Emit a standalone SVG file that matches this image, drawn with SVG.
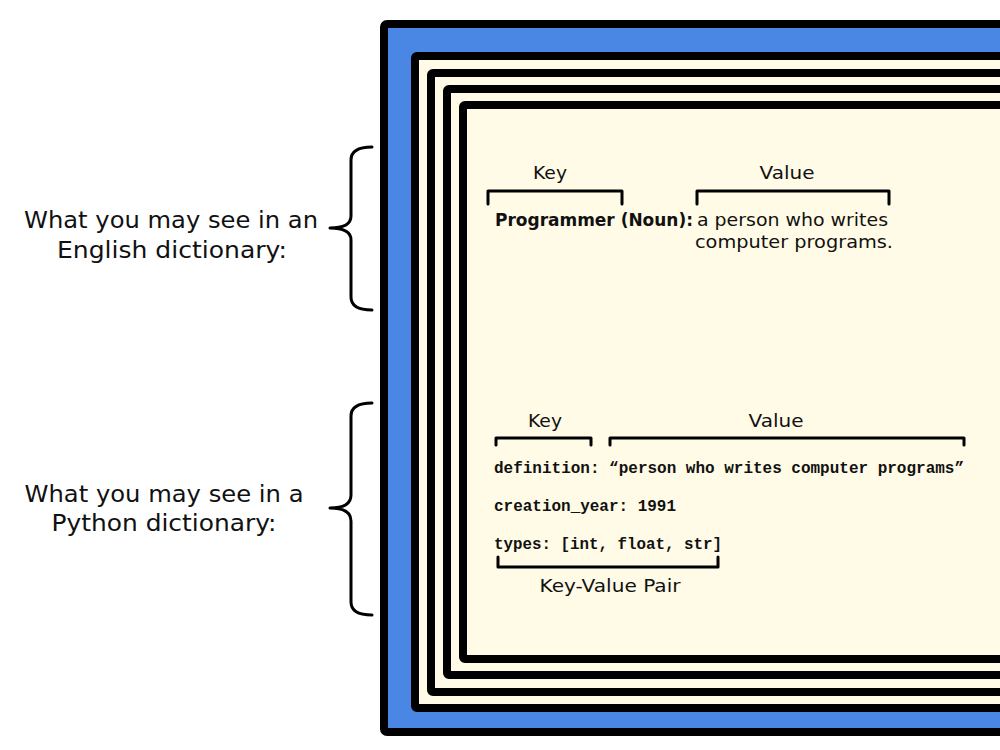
<svg xmlns="http://www.w3.org/2000/svg" width="1000" height="750" viewBox="0 0 1000 750">
<style>
.frame{stroke:#000;stroke-width:8;}
.cream{fill:#fffbe6;}
.lbl{font-family:"DejaVu Sans","Liberation Sans",sans-serif;fill:#111;}
.side{font-size:23px;}
.hd{font-size:18px;}
.bold{font-weight:bold;}
.mono{font-family:"Liberation Mono","DejaVu Sans Mono",monospace;font-weight:bold;font-size:16px;fill:#111;}
.br{fill:none;stroke:#000;stroke-width:3;stroke-linecap:round;stroke-linejoin:round;}
</style>
<rect width="1000" height="750" fill="#fff"/>
<g id="frames">
<rect class="frame" x="384" y="24" width="660" height="708" rx="3" fill="#4a86e3"/>
<rect class="frame cream" x="415" y="56" width="620" height="652" rx="2"/>
<rect class="frame cream" x="431" y="73" width="600" height="619" rx="2"/>
<rect class="frame cream" x="447" y="89" width="590" height="586" rx="2"/>
<rect class="frame cream" x="463" y="105" width="580" height="554" rx="2"/>
</g>
<g id="english-label">
<text class="lbl side" x="171" y="228" text-anchor="middle" textLength="294" lengthAdjust="spacingAndGlyphs">What you may see in an</text>
<text class="lbl side" x="172" y="258" text-anchor="middle" textLength="230" lengthAdjust="spacingAndGlyphs">English dictionary:</text>
</g>
<g id="python-label">
<text class="lbl side" x="164" y="502" text-anchor="middle" textLength="279" lengthAdjust="spacingAndGlyphs">What you may see in a</text>
<text class="lbl side" x="164" y="531" text-anchor="middle" textLength="225" lengthAdjust="spacingAndGlyphs">Python dictionary:</text>
</g>
<g id="connectors">
<path class="br" d="M372,147 Q351,147 351,160 L351,216 Q351,228 330,228 Q351,228 351,240 L351,297 Q351,310 372,310"/>
<path class="br" d="M372,403 Q351,403 351,416 L351,495 Q351,508 330,508 Q351,508 351,521 L351,602 Q351,615 372,615"/>
<path class="br" d="M488,204 L488,191 L622,191 L622,204"/>
<path class="br" d="M697,204 L697,191 L889,191 L889,204"/>
<path class="br" d="M496,445 L496,438 L591,438 L591,445"/>
<path class="br" d="M610,445 L610,438 L964,438 L964,445"/>
<path class="br" d="M498,557 L498,567 L718,567 L718,557"/>
</g>
<g id="english-entry">
<text class="lbl hd" x="550" y="179" text-anchor="middle" textLength="34" lengthAdjust="spacingAndGlyphs">Key</text>
<text class="lbl hd" x="787" y="179" text-anchor="middle" textLength="55" lengthAdjust="spacingAndGlyphs">Value</text>
<text class="lbl hd bold" x="495" y="226" textLength="198" lengthAdjust="spacingAndGlyphs">Programmer (Noun):</text>
<text class="lbl hd" x="697" y="226" textLength="191" lengthAdjust="spacingAndGlyphs">a person who writes</text>
<text class="lbl hd" x="695" y="248" textLength="198" lengthAdjust="spacingAndGlyphs">computer programs.</text>
</g>
<g id="python-entry">
<text class="lbl hd" x="545" y="427" text-anchor="middle" textLength="34" lengthAdjust="spacingAndGlyphs">Key</text>
<text class="lbl hd" x="776" y="427" text-anchor="middle" textLength="55" lengthAdjust="spacingAndGlyphs">Value</text>
<text class="mono" x="494" y="473" textLength="470" lengthAdjust="spacingAndGlyphs">definition: “person who writes computer programs”</text>
<text class="mono" x="494" y="511" textLength="182" lengthAdjust="spacingAndGlyphs">creation_year: 1991</text>
<text class="mono" x="494" y="549" textLength="228" lengthAdjust="spacingAndGlyphs">types: [int, float, str]</text>
<text class="lbl hd" x="610" y="592" text-anchor="middle" textLength="141" lengthAdjust="spacingAndGlyphs">Key-Value Pair</text>
</g>
</svg>
